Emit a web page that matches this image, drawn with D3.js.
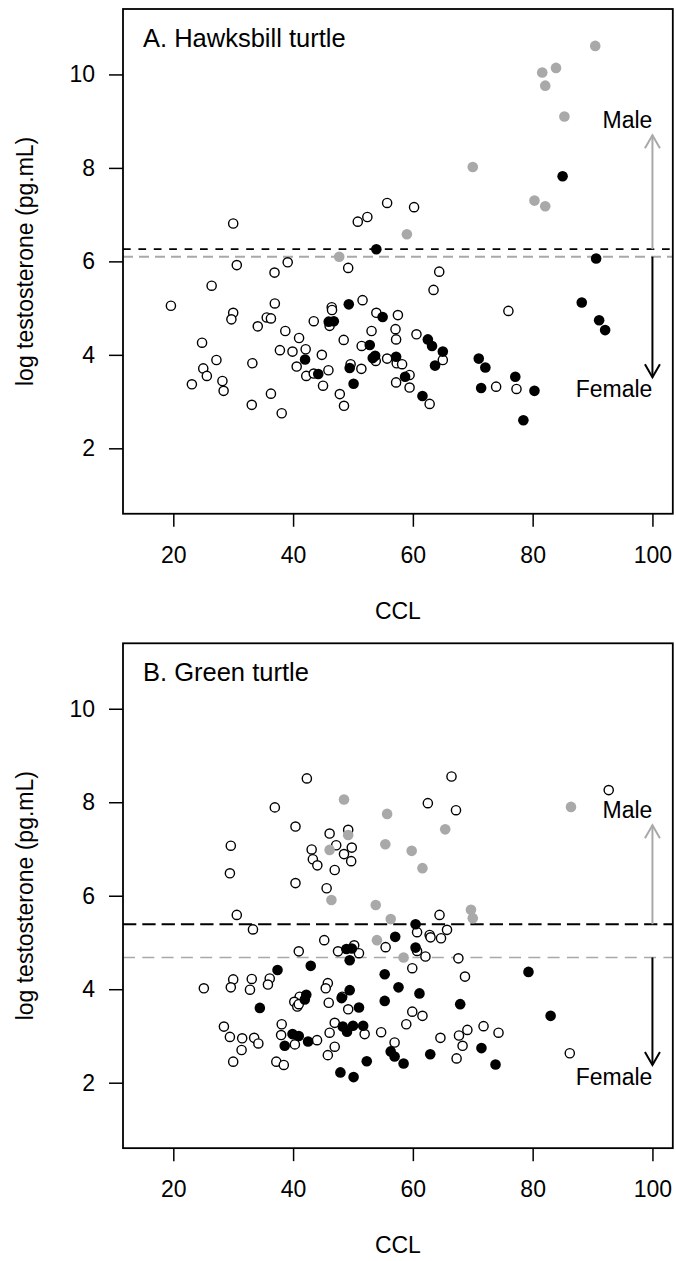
<!DOCTYPE html>
<html>
<head>
<meta charset="utf-8">
<script src="https://cdn.jsdelivr.net/npm/d3@7"></script>
<style>
  html, body { margin: 0; padding: 0; background: #fff; }
  svg text { font-family: "Liberation Sans", Arial, Helvetica, sans-serif; fill: #000; }
</style>
</head>
<body>
<svg id="chart" width="676" height="1261"></svg>
<script>
// Tick values shared by both panels
const xTicks = [20, 40, 60, 80, 100];
const yTicks = [2, 4, 6, 8, 10];
const xDomain = [15, 100];
const yDomain = [1, 11];

// Hawksbill turtle: [CCL, log testosterone]
const hawkOpen = [
  [30.0,6.81],[30.6,5.92],[36.9,5.76],[39.1,5.98],[50.8,6.85],[52.4,6.95],[55.7,7.25],[49.2,5.86],
  [60.2,7.16],[64.4,5.78],[26.4,5.48],[19.6,5.05],[30.0,4.90],[29.7,4.76],[36.95,5.10],[35.6,4.80],
  [36.3,4.78],[34.1,4.61],[38.7,4.51],[24.8,4.26],[41.0,4.36],[37.8,4.10],[39.9,4.07],[42.1,4.12],
  [43.45,4.72],[44.8,4.00],[27.2,3.89],[25.0,3.71],[25.6,3.55],[23.1,3.37],[28.2,3.44],[28.4,3.23],
  [33.2,3.82],[33.1,2.93],[36.3,3.17],[38.1,2.75],[40.6,3.75],[42.2,3.55],[43.45,3.60],[45.9,3.67],
  [45.0,3.34],[47.8,3.16],[48.5,2.91],[46.45,5.02],[46.5,4.96],[46.1,4.62],[51.6,5.17],[48.45,4.32],
  [49.6,3.80],[51.4,3.70],[53.9,4.90],[53.1,4.51],[51.45,4.19],[53.8,3.87],[55.7,3.92],[63.45,5.39],
  [75.95,4.94],[57.5,4.85],[57.1,4.55],[57.2,4.33],[60.6,4.44],[65.0,3.89],[57.3,3.82],[58.2,3.80],
  [59.45,3.57],[57.2,3.41],[59.45,3.30],[62.8,2.95],[73.9,3.32],[77.3,3.27]
];
const hawkFemale = [
  [53.9,6.26],[85.0,7.82],[90.6,6.06],[42.0,3.90],[44.2,3.59],[45.95,4.71],[46.8,4.72],[49.3,5.08],
  [49.45,3.72],[50.1,3.38],[54.95,4.81],[52.8,4.21],[53.7,3.98],[53.3,3.93],[88.2,5.12],[91.1,4.74],
  [92.1,4.53],[62.5,4.33],[63.2,4.19],[65.0,4.07],[63.7,3.77],[57.2,3.96],[58.7,3.53],[61.6,3.12],
  [71.0,3.92],[72.1,3.73],[71.4,3.29],[77.1,3.53],[80.3,3.23],[78.45,2.60]
];
const hawkMale = [
  [47.7,6.10],[90.45,10.61],[83.9,10.14],[81.6,10.04],[82.1,9.76],[85.3,9.10],[70.0,8.02],
  [80.3,7.30],[82.1,7.18],[59.0,6.58]
];

// Green turtle: [CCL, log testosterone]
const greenOpen = [
  [42.3,8.51],[36.95,7.89],[40.4,7.48],[46.1,7.33],[49.2,7.41],[47.2,7.08],[49.8,7.03],[29.6,7.07],
  [43.1,6.99],[43.3,6.78],[44.05,6.65],[48.5,6.89],[49.7,6.74],[46.95,6.55],[29.45,6.48],[40.4,6.27],
  [45.6,6.16],[66.45,8.55],[62.5,7.98],[67.2,7.83],[92.7,8.26],
  [30.6,5.59],[33.3,5.28],[45.2,5.05],[55.45,4.90],[40.95,4.81],[47.5,4.81],[50.2,4.94],[51.0,4.77],
  [25.1,4.02],[30.0,4.21],[29.6,4.04],[33.1,4.22],[32.8,3.99],[36.1,4.23],[35.8,4.10],[45.8,4.13],
  [45.45,4.02],[48.2,3.84],[45.95,3.71],[49.2,3.57],[41.1,3.84],[40.2,3.73],[40.7,3.63],[40.95,3.68],
  [28.45,3.20],[29.45,2.98],[31.5,2.95],[31.4,2.70],[33.5,2.96],[34.2,2.84],[30.0,2.45],[38.1,3.25],
  [38.0,3.02],[40.3,2.82],[44.0,2.91],[37.2,2.45],[38.45,2.38],[46.95,3.28],[46.1,3.07],[51.95,3.04],
  [54.7,3.08],[46.95,2.77],[45.8,2.59],
  [64.45,5.59],[60.7,5.22],[62.8,5.16],[62.95,5.11],[64.7,5.09],[65.7,5.27],[60.7,4.82],[62.1,4.70],
  [67.6,4.66],[59.9,4.45],[68.7,4.27],[59.9,3.52],[61.6,3.43],[58.9,3.25],[56.95,2.86],[64.6,2.96],
  [67.7,3.01],[69.1,3.13],[68.3,2.79],[67.3,2.52],[71.8,3.21],[74.3,3.07],[86.2,2.63]
];
const greenFemale = [
  [48.9,4.86],[49.8,4.87],[49.45,4.62],[42.95,4.50],[37.4,4.41],[34.45,3.60],[49.45,3.98],[48.1,3.81],
  [51.0,3.61],[42.2,3.88],[41.95,3.78],[55.3,4.32],[55.3,3.75],[39.9,3.04],[40.95,3.00],[38.6,2.79],
  [42.5,2.88],[48.3,3.20],[49.0,3.09],[50.0,3.22],[51.7,3.22],[52.3,2.46],[47.9,2.22],[50.1,2.12],
  [56.3,2.67],[60.45,5.39],[57.05,5.12],[60.45,4.89],[79.3,4.37],[57.6,4.04],[61.1,3.91],[67.9,3.68],
  [83.0,3.43],[56.95,2.56],[58.45,2.41],[62.9,2.61],[71.45,2.74],[73.8,2.39]
];
const greenMale = [
  [48.5,8.06],[55.7,7.75],[49.2,7.30],[46.1,6.98],[55.4,7.10],[46.4,5.91],[53.8,5.80],[86.4,7.90],
  [65.4,7.42],[59.8,6.96],[61.6,6.59],[69.7,5.70],[70.0,5.52],[56.3,5.50],[54.0,5.05],[58.45,4.68]
];

// Threshold lines and sex arrows: [male threshold, female threshold], arrow ends
const hawkThresholds = [6.26, 6.10];
const hawkArrowEnds = [8.70, 3.52];
const greenThresholds = [5.39, 4.68];
const greenArrowEnds = [7.51, 2.38];

const panels = [
  { title: "A. Hawksbill turtle", open: hawkOpen, female: hawkFemale, male: hawkMale,
    thr: hawkThresholds, ends: hawkArrowEnds, top: 9, bottom: 513.75,
    maleDash: "7.7,7.7", femaleDash: "10,6", femaleW: 2 },
  { title: "B. Green turtle", open: greenOpen, female: greenFemale, male: greenMale,
    thr: greenThresholds, ends: greenArrowEnds, top: 643.3, bottom: 1148.15,
    maleDash: "13.3,6", femaleDash: "12,7.3", femaleW: 1.5 }
];

const svg = d3.select("#chart");
const left = 123, right = 672.8;
const grey = "#a9a9a9";
const fontSize = 23;

function pad(d) { const s = (d[1] - d[0]) * 0.04; return [d[0] - s, d[1] + s]; }

panels.forEach((p, i) => {
  const x = d3.scaleLinear().domain(pad(xDomain)).range([left, right]);
  const y = d3.scaleLinear().domain(pad(yDomain)).range([p.bottom, p.top]);
  const g = svg.append("g");
  const clipId = "clip" + i;
  svg.append("clipPath").attr("id", clipId).append("rect")
    .attr("x", left).attr("y", p.top).attr("width", right - left).attr("height", p.bottom - p.top);

  // Axes
  const xAxis = d3.axisBottom(x).tickValues(xTicks).tickSize(13).tickPadding(8).tickSizeOuter(0);
  const yAxis = d3.axisLeft(y).tickValues(yTicks).tickSize(14).tickPadding(14).tickSizeOuter(0);
  const gx = g.append("g").attr("transform", `translate(0,${p.bottom})`).call(xAxis);
  const gy = g.append("g").attr("transform", `translate(${left},0)`).call(yAxis);
  [gx, gy].forEach(a => {
    a.select(".domain").remove();
    a.selectAll(".tick line").attr("stroke", "#000").attr("stroke-width", 1.5);
    a.selectAll(".tick text").style("font-size", fontSize + "px")
      .style("font-family", "'Liberation Sans', Arial, sans-serif").attr("fill", "#000");
  });
  gx.selectAll(".tick text").attr("dy", "0.71em").attr("y", 33);

  // Axis titles
  g.append("text").attr("x", (left + right) / 2).attr("y", p.bottom + 105)
    .attr("text-anchor", "middle").style("font-size", fontSize + "px").text("CCL");
  g.append("text")
    .attr("transform", `translate(33,${(p.top + p.bottom) / 2}) rotate(-90)`)
    .attr("text-anchor", "middle").style("font-size", fontSize + "px")
    .text("log testosterone (pg.mL)");

  const plot = g.append("g").attr("clip-path", `url(#${clipId})`);

  // Threshold lines
  plot.append("line").attr("x1", left).attr("x2", right)
    .attr("y1", y(p.thr[1])).attr("y2", y(p.thr[1]))
    .attr("stroke", grey).attr("stroke-width", p.femaleW).attr("stroke-dasharray", p.femaleDash);
  plot.append("line").attr("x1", left).attr("x2", right)
    .attr("y1", y(p.thr[0])).attr("y2", y(p.thr[0]))
    .attr("stroke", "#000").attr("stroke-width", 1.8).attr("stroke-dasharray", p.maleDash);

  // Points
  plot.selectAll(".open").data(p.open).join("circle")
    .attr("cx", d => x(d[0])).attr("cy", d => y(d[1])).attr("r", 4.6)
    .attr("fill", "#fff").attr("stroke", "#000").attr("stroke-width", 1.4);
  plot.selectAll(".fem").data(p.female).join("circle")
    .attr("cx", d => x(d[0])).attr("cy", d => y(d[1])).attr("r", 5.3).attr("fill", "#000");
  plot.selectAll(".mal").data(p.male).join("circle")
    .attr("cx", d => x(d[0])).attr("cy", d => y(d[1])).attr("r", 5.3).attr("fill", grey);

  // Arrows pointing to the sex assignment
  const ax = x(100);
  function arrow(y0, y1, color) {
    const dir = y1 < y0 ? 1 : -1;
    const hl = 13, hw = 7.5;
    g.append("line").attr("x1", ax).attr("x2", ax).attr("y1", y0).attr("y2", y1)
      .attr("stroke", color).attr("stroke-width", 2);
    g.append("path")
      .attr("d", `M${ax - hw},${y1 + dir * hl} L${ax},${y1} L${ax + hw},${y1 + dir * hl}`)
      .attr("fill", "none").attr("stroke", color).attr("stroke-width", 2);
  }
  arrow(y(p.thr[0]), y(p.ends[0]), grey);
  arrow(y(p.thr[1]), y(p.ends[1]), "#000");
  g.append("text").attr("x", ax).attr("y", y(p.ends[0]) - 7)
    .attr("text-anchor", "end").style("font-size", fontSize + "px").text("Male");
  g.append("text").attr("x", ax).attr("y", y(p.ends[1]) + 20)
    .attr("text-anchor", "end").style("font-size", fontSize + "px").text("Female");

  // Title
  g.append("text").attr("x", 143).attr("y", p.top + 38)
    .style("font-size", "25.5px").text(p.title);

  // Frame
  g.append("rect").attr("x", left).attr("y", p.top)
    .attr("width", right - left).attr("height", p.bottom - p.top)
    .attr("fill", "none").attr("stroke", "#000").attr("stroke-width", 1.8);
});
</script>
</body>
</html>
